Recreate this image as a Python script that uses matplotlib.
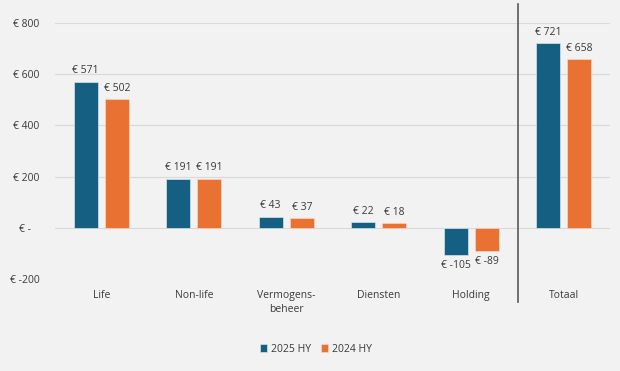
import matplotlib
matplotlib.use("Agg")
import matplotlib.pyplot as plt
import matplotlib.transforms as mtransforms
from matplotlib.lines import Line2D
import numpy as np

categories = ["Life", "Non-life", "Vermogens-\nbeheer", "Diensten", "Holding", "Totaal"]
series_2025 = [571, 191, 43, 22, -105, 721]
series_2024 = [502, 191, 37, 18, -89, 658]
series_names = ["2025 HY", "2024 HY"]
yticks = [-200, 0, 200, 400, 600, 800]

BLUE = "#156082"
ORANGE = "#E97132"
BG = "#F2F2F2"
TXT = "#3a3a3a"

plt.rcParams["font.family"] = ["Open Sans", "DejaVu Sans"]

fig = plt.figure(figsize=(6.2, 3.71), dpi=100, facecolor=BG)
ax = fig.add_axes([55/620, 92/371, 555/620, 256/371], facecolor=BG)

x = np.arange(len(categories))
w = 0.26
off = 0.168
b1 = ax.bar(x - off, series_2025, w, color=BLUE, edgecolor="#d9e4ea", linewidth=0.5, zorder=3, label=series_names[0])
b2 = ax.bar(x + off, series_2024, w, color=ORANGE, edgecolor="#f6d5c3", linewidth=0.5, zorder=3, label=series_names[1])

ax.set_xlim(-0.5, len(categories) - 0.5)
ax.set_ylim(-200, 800)
ax.set_yticks(yticks)
ax.set_yticklabels(["€ -   " if v == 0 else f"€ {v}" for v in yticks], fontsize=7.5, color=TXT)
ax.set_xticks(x)
ax.set_xticklabels(categories, fontsize=7.5, color=TXT, linespacing=1.3, va="top")
ax.tick_params(axis="both", length=0)
ax.tick_params(axis="x", pad=8)
ax.tick_params(axis="y", pad=11)
for lab in ax.get_yticklabels():
    lab.set_horizontalalignment("right")
ax.grid(axis="y", color="#D9D9D9", linewidth=0.8, zorder=0)
for s in ax.spines.values():
    s.set_visible(False)

for bars, vals in ((b1, series_2025), (b2, series_2024)):
    for rect, v in zip(bars, vals):
        cx = rect.get_x() + rect.get_width() / 2
        if v >= 0:
            ax.annotate(f"€ {v}", (cx, v), xytext=(0, 4), textcoords="offset points",
                        ha="center", va="bottom", fontsize=7.5, color=TXT)
        else:
            ax.annotate(f"€ {v}", (cx, v), xytext=(0, -4), textcoords="offset points",
                        ha="center", va="top", fontsize=7.5, color=TXT)

# separator line between Holding and Totaal
trans = mtransforms.blended_transform_factory(ax.transData, fig.transFigure)
sep = Line2D([4.5, 4.5], [1 - 4/371, 1 - 302/371], transform=trans, color="#595959",
             linewidth=1.2, clip_on=False)
fig.add_artist(sep)

leg = fig.legend(handles=[b1, b2], labels=series_names, loc="center",
                 bbox_to_anchor=(316/620, 1 - 349/371), ncol=2, frameon=False,
                 fontsize=7.5, handlelength=0.7, handleheight=0.7, handletextpad=0.4,
                 columnspacing=0.9)
for t in leg.get_texts():
    t.set_color(TXT)

fig.savefig("out.png", dpi=100, facecolor=BG)
